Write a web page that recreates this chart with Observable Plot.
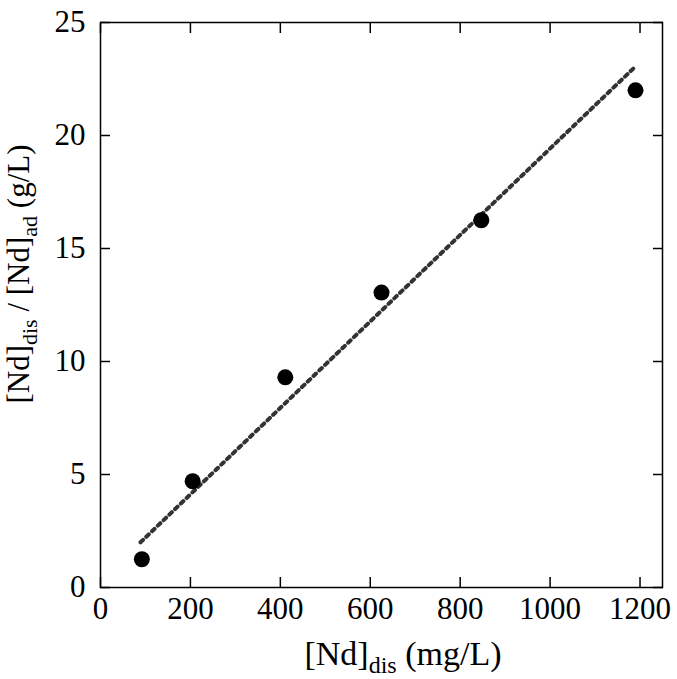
<!DOCTYPE html>
<html>
<head>
<meta charset="utf-8">
<script src="https://cdn.jsdelivr.net/npm/d3@7"></script>
<script src="https://cdn.jsdelivr.net/npm/@observablehq/plot@0.6"></script>
<style>
  html, body { margin: 0; padding: 0; background: #fff; }
  #chart svg { display: block; }
</style>
</head>
<body>
<div id="chart"></div>
<script>
// Measured data: [Nd]dis (mg/L) vs [Nd]dis/[Nd]ad (g/L)
const ndDis = [92, 205, 411, 625, 847, 1190];
const ratio = [1.25, 4.7, 9.3, 13.05, 16.25, 22.0];
// Linear fit line endpoints
const fitX = [89, 1187];
const fitY = [2.0, 23.0];
// Tick values
const xTicks = [0, 200, 400, 600, 800, 1000, 1200];
const yTicks = [0, 5, 10, 15, 20, 25];

const points = ndDis.map((x, i) => ({x, y: ratio[i]}));
const fit = fitX.map((x, i) => ({x, y: fitY[i]}));

const FONT = "'Liberation Serif', 'Times New Roman', serif";
const fmt = d3.format("d");

const chart = Plot.plot({
  width: 677,
  height: 679,
  marginLeft: 100,
  marginRight: 15,
  marginTop: 22,
  marginBottom: 92,
  style: {fontFamily: FONT, fontSize: "31px", color: "black", background: "white"},
  x: {domain: [0, 1250], label: null},
  y: {domain: [0, 25], label: null},
  marks: [
    Plot.axisX({ticks: xTicks, tickFormat: fmt, tickSize: 0, tickPadding: 9, label: null, fontSize: 31}),
    Plot.axisY({ticks: yTicks, tickFormat: fmt, tickSize: 0, tickPadding: 15, label: null, fontSize: 31}),
    Plot.axisX({ticks: xTicks, anchor: "bottom", tickSize: 10, dy: -10, text: null, label: null, strokeWidth: 1.5}),
    Plot.axisX({ticks: xTicks, anchor: "top", tickSize: 10, dy: 10, text: null, label: null, strokeWidth: 1.5}),
    Plot.axisY({ticks: yTicks, anchor: "left", tickSize: 10, dx: 10, text: null, label: null, strokeWidth: 1.5}),
    Plot.axisY({ticks: yTicks, anchor: "right", tickSize: 10, dx: -10, text: null, label: null, strokeWidth: 1.5}),
    Plot.line(fit, {x: "x", y: "y", stroke: "#333", strokeWidth: 4, strokeDasharray: "3.5,4.5"}),
    Plot.dot(points, {x: "x", y: "y", r: 8, fill: "black", stroke: "none"}),
    Plot.frame({stroke: "black", strokeWidth: 1.5})
  ]
});

const svg = d3.select(chart);
// X axis label
const xl = svg.append("text")
  .attr("x", 403).attr("y", 665)
  .attr("text-anchor", "middle")
  .attr("font-family", FONT).attr("font-size", 34).attr("fill", "black");
xl.append("tspan").text("[Nd]");
xl.append("tspan").attr("dy", 8).attr("font-size", 24).text("dis");
xl.append("tspan").attr("dy", -8).text(" (mg/L)");

// Y axis label
const yl = svg.append("text")
  .attr("transform", "translate(29,274) rotate(-90)")
  .attr("text-anchor", "middle")
  .attr("font-family", FONT).attr("font-size", 31).attr("fill", "black");
yl.append("tspan").text("[Nd]");
yl.append("tspan").attr("dy", 8).attr("font-size", 22).text("dis");
yl.append("tspan").attr("dy", -8).text(" / [Nd]");
yl.append("tspan").attr("dy", 8).attr("font-size", 22).text("ad");
yl.append("tspan").attr("dy", -8).text(" (g/L)");

document.getElementById("chart").appendChild(chart);
</script>
</body>
</html>
